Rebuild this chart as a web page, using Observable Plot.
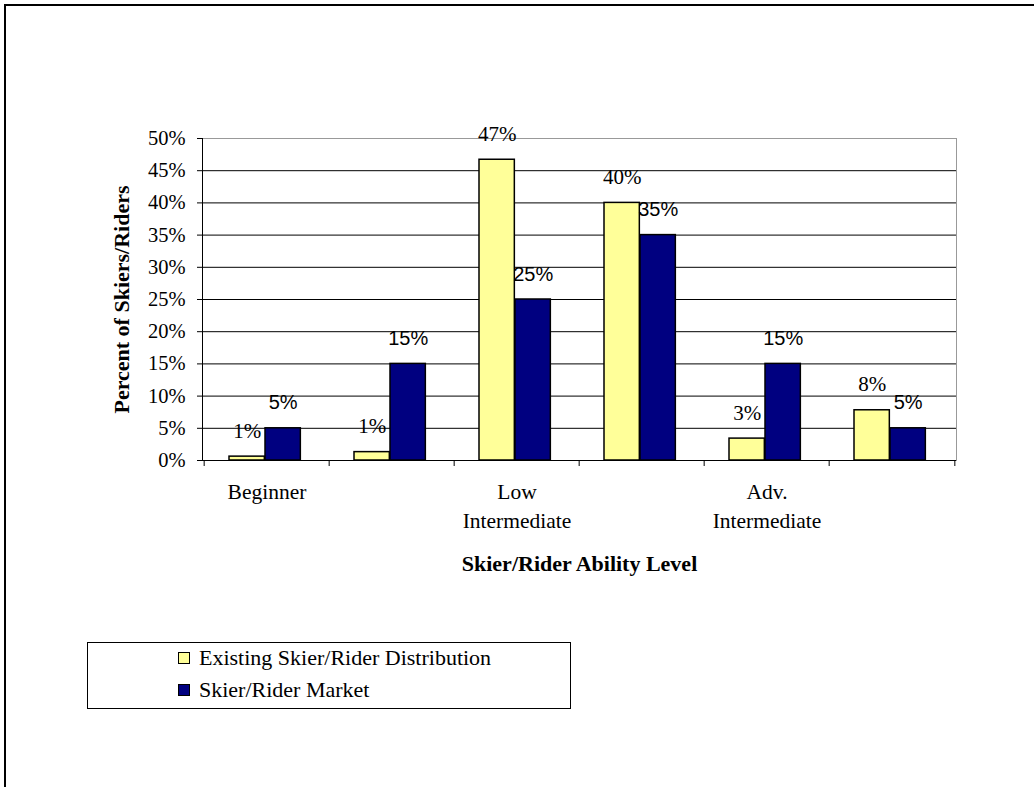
<!DOCTYPE html>
<html><head><meta charset="utf-8">
<script src="https://cdn.jsdelivr.net/npm/d3@7"></script>
<script src="https://cdn.jsdelivr.net/npm/@observablehq/plot@0.6"></script>
<style>
html,body{margin:0;padding:0;background:#fff;}
#wrap{position:relative;width:1034px;height:787px;overflow:hidden;}
#border{position:absolute;left:4px;top:4px;width:1100px;height:900px;border-top:2px solid #000;border-left:2px solid #000;box-sizing:border-box;}
#chart{position:absolute;left:0;top:0;}
#legend{position:absolute;left:87px;top:642px;width:484px;height:67px;border:1px solid #000;box-sizing:border-box;font-family:"Liberation Serif",serif;font-size:22px;color:#000;}
.item{position:absolute;left:90px;height:22px;display:flex;align-items:center;white-space:nowrap;}
.sw{width:10px;height:10px;border:1px solid #000;margin-right:9px;flex:none;}
</style></head><body>
<div id="wrap"><div id="border"></div><div id="chart"></div><div id="legend"></div></div>
<script>
const categories = ["Beginner", "Novice", "Low Intermediate", "High Intermediate", "Adv. Intermediate", "Expert"];
const tickLabels = ["Beginner", "", "Low\nIntermediate", "", "Adv.\nIntermediate", ""];
const seriesNames = ["Existing Skier/Rider Distribution", "Skier/Rider Market"];
const existing = [0.006, 0.013, 0.467, 0.400, 0.034, 0.078];
const market = [0.05, 0.15, 0.25, 0.35, 0.15, 0.05];
const yTicks = [0, 0.05, 0.10, 0.15, 0.20, 0.25, 0.30, 0.35, 0.40, 0.45, 0.50];
const colors = ["#FFFF99", "#000080"];

const data = categories.map((c, i) => ({category: c, existing: existing[i], market: market[i]}));

const W = 1034, H = 600, ML = 202, MR = 78, MT = 138, MB = 140;
const step = (W - ML - MR) / categories.length;
const barW = 36, lead = 25;
const pct = d3.format(".0%");

const chart = Plot.plot({
  width: W, height: H,
  marginLeft: ML, marginRight: MR, marginTop: MT, marginBottom: MB,
  style: {fontFamily: "'Liberation Serif', 'Times New Roman', serif", background: "transparent", color: "#000"},
  x: {type: "band", domain: categories, padding: 0},
  y: {domain: [0, 0.5]},
  marks: [
    Plot.gridY({ticks: yTicks.filter(t => t > 0 && t < 0.5), stroke: "#000", strokeOpacity: 1}),
    Plot.frame({stroke: "#999"}),
    Plot.frame({anchor: "left", stroke: "#000"}),
    Plot.ruleY([0], {stroke: "#000"}),
    Plot.barY(data, {x: "category", y: "existing", fill: colors[0], stroke: "#000", strokeWidth: 1.5,
      insetLeft: lead, insetRight: step - lead - barW}),
    Plot.barY(data, {x: "category", y: "market", fill: colors[1], stroke: "#000", strokeWidth: 1.5,
      insetLeft: lead + barW, insetRight: step - lead - 2 * barW}),
    Plot.text(data, {x: "category", y: "existing", text: d => pct(d.existing), lineAnchor: "bottom",
      dy: -19, dx: lead + barW / 2 - step / 2, fontSize: 21, fill: "#000"}),
    Plot.text(data, {x: "category", y: "market", text: d => pct(d.market), lineAnchor: "bottom",
      dy: -19, dx: lead + 1.5 * barW - step / 2, fontSize: 20, fontFamily: "'Liberation Sans', Arial, sans-serif", fill: "#000"}),
    Plot.axisY({ticks: yTicks, tickFormat: pct, tickSize: 5, tickPadding: 12, fontSize: 20.5, label: null}),
    Plot.axisX({tickSize: 6, dx: -step / 2, tickFormat: () => "", label: null}),
    Plot.axisX({ticks: [categories[categories.length - 1]], tickSize: 6, dx: step / 2, tickFormat: () => "", label: null}),
    Plot.axisX({tickSize: 0, tickPadding: 18, tickFormat: d => tickLabels[categories.indexOf(d)], fontSize: 21.5, lineHeight: 1.35, label: null}),
    Plot.text(["Percent of Skiers/Riders"], {text: d => d, frameAnchor: "left", textAnchor: "middle", lineAnchor: "middle", dx: -81, rotate: -90, fontWeight: "bold", fontSize: 22}),
    Plot.text(["Skier/Rider Ability Level"], {text: d => d, frameAnchor: "bottom", textAnchor: "middle", lineAnchor: "middle", dy: 103, fontWeight: "bold", fontSize: 22})
  ]
});
document.getElementById("chart").appendChild(chart);

const legend = document.getElementById("legend");
seriesNames.forEach((name, i) => {
  const item = document.createElement("div");
  item.className = "item";
  item.style.top = (4 + i * 32) + "px";
  const sw = document.createElement("span");
  sw.className = "sw";
  sw.style.background = colors[i];
  const label = document.createElement("span");
  label.textContent = name;
  item.appendChild(sw);
  item.appendChild(label);
  legend.appendChild(item);
});
</script>
</body></html>
